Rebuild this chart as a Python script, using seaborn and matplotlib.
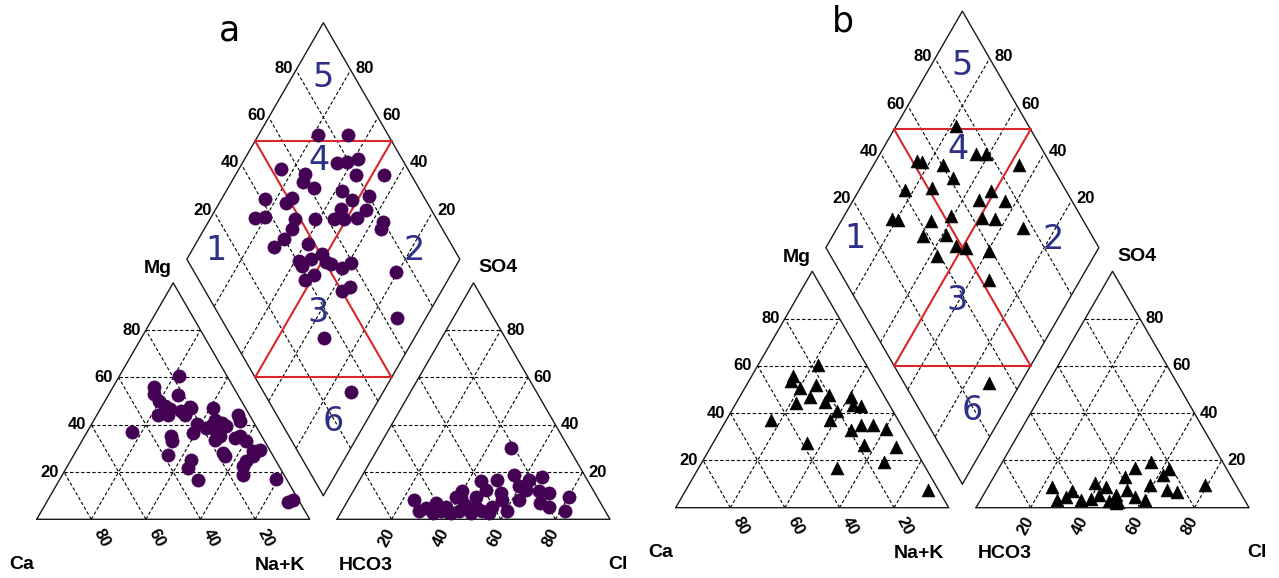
import numpy as np
import pandas as pd
import seaborn as sns
import matplotlib
matplotlib.use('Agg')
import matplotlib.pyplot as plt

# ---- data (percent) ----
# panel a, cation triangle: Mg, Na+K
a_cat_mg = [60.6, 56.1, 52.4, 52.8, 50.0, 47.9, 46.5, 44.3, 44.3, 45.8, 47.6, 44.3, 47.2, 44.3, 41.5,
            37.0, 40.5, 38.7, 42.2, 40.8, 37.3, 39.4, 36.3, 35.1, 33.0, 33.7, 34.4, 33.0, 35.1, 29.5,
            26.6, 24.5, 27.3, 28.0, 26.6, 25.2, 21.7, 22.4, 18.8, 16.7, 17.0, 7.5, 8.2, 28.8, 39.4,
            47.2, 35.1]
a_cat_nak = [21.9, 14.9, 25.6, 16.5, 19.9, 23.0, 25.5, 22.4, 26.0, 30.1, 32.3, 32.1, 41.0, 51.6, 53.6,
             16.3, 38.3, 42.8, 44.1, 47.3, 47.2, 49.8, 39.2, 31.8, 32.9, 48.4, 55.4, 60.3, 49.5, 67.0,
             66.0, 64.6, 34.5, 54.3, 55.6, 44.1, 44.7, 64.4, 66.2, 50.8, 79.3, 88.3, 89.8, 64.9, 44.3,
             33.1, 56.9]
# panel a, anion triangle: SO4, Cl
a_an_so4 = [30.2, 16.0, 16.7, 18.8, 16.7, 18.1, 13.9, 12.5, 11.8, 9.6, 3.3, 5.4, 6.8, 12.5, 8.2,
            3.3, 5.4, 11.8, 9.6, 6.1, 5.4, 3.3, 5.4, 6.8, 4.7, 8.2, 3.3, 2.5, 2.5, 3.3,
            2.5, 8.9, 11.0, 11.0, 8.2, 3.3, 2.5, 9.6]
a_an_cl = [48.8, 44.6, 50.3, 55.4, 61.9, 66.0, 59.6, 62.8, 68.0, 80.0, 82.0, 74.8, 71.1, 48.2, 56.4,
           60.7, 54.2, 40.0, 38.7, 44.0, 48.1, 51.6, 37.2, 32.8, 30.2, 24.2, 28.5, 33.8, 40.4, 43.1,
           47.7, 40.9, 54.4, 72.0, 62.5, 36.4, 54.4, 46.0]
# panel a, diamond: Ca+Mg, SO4+Cl
a_dia_camg = [78.1, 67.2, 65.2, 61.7, 58.3, 55.8, 45.6, 84.7, 74.8, 73.7, 68.4, 57.6, 46.6, 84.1, 74.3,
              75.5, 52.0, 54.3, 44.6, 68.8, 61.5, 54.5, 50.9, 46.2, 36.1, 35.4, 83.7, 80.3, 68.0, 68.7,
              70.6, 58.8, 56.4, 54.7, 51.5, 46.3, 50.0, 52.2, 41.2, 39.2, 36.4, 34.4, 20.9, 10.4, 33.0,
              12.0, 58.6, 48.5]
a_dia_so4cl = [74.5, 85.4, 75.5, 79.3, 83.9, 80.0, 90.1, 53.5, 61.4, 58.9, 61.6, 71.1, 80.1, 41.4, 51.6,
               48.4, 73.2, 67.0, 76.1, 48.0, 55.4, 62.3, 66.1, 71.1, 79.8, 77.5, 33.7, 37.6, 44.8, 39.9,
               34.5, 47.8, 40.9, 45.5, 50.8, 51.7, 43.2, 38.8, 55.0, 59.3, 50.3, 53.8, 73.9, 64.6, 33.5,
               32.0, 40.8, 50.3]

# panel b
b_cat_mg = [60.5, 55.8, 53.4, 50.6, 52.0, 47.0, 44.2, 47.7, 44.9, 46.8, 43.5, 42.8, 40.7, 37.1, 37.1,
            35.0, 35.0, 33.2, 32.9, 27.5, 26.6, 25.8, 19.5, 16.7, 7.5]
b_cat_nak = [21.9, 14.9, 15.7, 20.1, 25.5, 25.6, 22.1, 32.3, 32.1, 40.9, 43.2, 46.6, 38.7, 37.8, 16.5,
             50.5, 54.7, 60.5, 47.9, 34.4, 55.5, 67.9, 66.4, 50.7, 88.6]
b_an_so4 = [19.5, 16.7, 13.1, 16.2, 13.8, 9.6, 9.6, 7.5, 6.8, 7.5, 4.4, 3.2, 5.4, 2.1, 8.9,
            10.3, 5.4, 3.5, 3.2, 7.2, 4.7, 3.2, 8.9, 3.0, 2.5]
b_an_cl = [54.5, 50.0, 48.2, 62.5, 61.5, 79.1, 59.1, 66.2, 70.2, 51.6, 56.2, 60.4, 48.4, 50.1, 43.0,
           38.4, 42.3, 40.2, 36.7, 31.7, 30.5, 28.2, 23.3, 47.2, 50.8]
b_dia_camg = [78.0, 64.9, 61.0, 84.8, 82.9, 74.6, 68.3, 46.7, 83.2, 73.9, 54.1, 51.6, 44.2, 81.7, 79.3,
              67.1, 60.9, 49.2, 44.2, 32.0, 67.0, 58.8, 52.7, 48.7, 39.5, 57.3, 33.3, 11.7]
b_dia_so4cl = [73.6, 74.7, 78.5, 51.9, 53.2, 60.5, 61.1, 88.1, 41.3, 51.5, 66.2, 72.5, 75.4, 30.5, 32.5,
               44.0, 52.4, 63.4, 68.1, 76.4, 37.8, 46.7, 47.9, 51.2, 59.0, 39.0, 52.8, 31.2]

ticks = [20, 40, 60, 80]
zones = ['1', '2', '3', '4', '5', '6']
# red boundaries in the diamond (Ca+Mg, SO4+Cl)
red_camg = [[100, 0], [50, 50], [100, 50], [50, 0]]
red_so4cl = [[50, 50], [100, 0], [50, 100], [0, 50]]

s3 = np.sqrt(3) / 2
NAVY = '#2D3086'
RED = '#D9262C'


def cat_xy(ox, oy, mg, nak):
    mg = np.asarray(mg) / 100.0
    nak = np.asarray(nak) / 100.0
    return ox + nak + 0.5 * mg, oy + s3 * mg


def an_xy(ox, oy, so4, cl):
    so4 = np.asarray(so4) / 100.0
    cl = np.asarray(cl) / 100.0
    return ox + 1.1 + cl + 0.5 * so4, oy + s3 * so4


def dia_xy(ox, oy, camg, so4cl):
    a = np.asarray(camg) / 100.0
    b = np.asarray(so4cl) / 100.0
    return ox + 1.05 - 0.5 * a + 0.5 * b, oy + 0.1 * s3 + s3 * (a + b)


def draw_piper(ax, ox, oy, cat_mg, cat_nak, an_so4, an_cl, dia_camg, dia_so4cl,
               marker, color, size, letter, letter_pos):
    edge = dict(color='#1a1a1a', lw=1.0, zorder=2)
    grid = dict(color='black', lw=0.8, ls=(0, (3, 2)), zorder=1)
    tk = dict(fontsize=12, fontweight='bold', family='Liberation Sans', color='black')
    # outlines
    x, y = cat_xy(ox, oy, [0, 0, 100, 0], [0, 100, 0, 0])
    ax.plot(x, y, **edge)
    x, y = an_xy(ox, oy, [0, 0, 100, 0], [0, 100, 0, 0])
    ax.plot(x, y, **edge)
    x, y = dia_xy(ox, oy, [0, 100, 100, 0, 0], [0, 0, 100, 100, 0])
    ax.plot(x, y, **edge)
    # grids
    for k in ticks:
        for mg, nak in [([k, k], [0, 100 - k]), ([0, 100 - k], [k, k]), ([0, 100 - k], [100 - k, 0])]:
            x, y = cat_xy(ox, oy, mg, nak)
            ax.plot(x, y, **grid)
            x, y = an_xy(ox, oy, mg, nak)
            ax.plot(x, y, **grid)
        x, y = dia_xy(ox, oy, [k, k], [0, 100])
        ax.plot(x, y, **grid)
        x, y = dia_xy(ox, oy, [0, 100], [k, k])
        ax.plot(x, y, **grid)
        # tick labels
        x, y = cat_xy(ox, oy, k, 0)
        ax.text(x - 0.02, y, str(k), ha='right', va='center', **tk)
        x, y = cat_xy(ox, oy, 0, 100 - k)
        ax.text(x + 0.04, y - 0.068, str(k), ha='center', va='center', rotation=-62, **tk)
        x, y = an_xy(ox, oy, k, 100 - k)
        ax.text(x + 0.02, y, str(k), ha='left', va='center', **tk)
        x, y = an_xy(ox, oy, 0, k)
        ax.text(x - 0.018, y - 0.066, str(k), ha='center', va='center', rotation=62, **tk)
        x, y = dia_xy(ox, oy, 100, k)
        ax.text(x - 0.01, y + 0.006, str(k), ha='right', va='center', **tk)
        x, y = dia_xy(ox, oy, k, 100)
        ax.text(x + 0.016, y + 0.006, str(k), ha='left', va='center', **tk)
    # red zone lines
    for cm, sc in zip(red_camg, red_so4cl):
        x, y = dia_xy(ox, oy, cm, sc)
        ax.plot(x, y, color=RED, lw=1.5, zorder=3)
    # corner labels
    lab = dict(fontsize=14, fontweight='bold', family='Liberation Sans', ha='center', va='center',
               color='black')
    ax.text(ox - 0.055, oy - 0.165, 'Ca', **lab)
    ax.text(ox + 0.89, oy - 0.168, 'Na+K', **lab)
    ax.text(ox + 1.206, oy - 0.168, 'HCO3', **lab)
    ax.text(ox + 2.13, oy - 0.165, 'Cl', **lab)
    ax.text(ox + 0.445, oy + s3 + 0.052, 'Mg', **lab)
    ax.text(ox + 1.69, oy + s3 + 0.055, 'SO4', **lab)
    # zone numbers
    zpos = [(0.656, 0.986), (1.383, 0.984), (1.03, 0.758), (1.035, 1.313), (1.05, 1.618), (1.087, 0.357)]
    for z, (zx, zy) in zip(zones, zpos):
        ax.text(ox + zx, oy + zy, z, fontsize=24, color=NAVY, ha='center', va='center',
                family='DejaVu Sans', zorder=4)
    ax.text(ox + letter_pos[0], oy + letter_pos[1], letter, fontsize=25, ha='center', va='center',
            family='DejaVu Sans', color='black')
    # samples
    cx, cy = cat_xy(ox, oy, cat_mg, cat_nak)
    axx, ayy = an_xy(ox, oy, an_so4, an_cl)
    dx, dy = dia_xy(ox, oy, dia_camg, dia_so4cl)
    pts = pd.DataFrame({'x': np.concatenate([cx, axx, dx]), 'y': np.concatenate([cy, ayy, dy])})
    sns.scatterplot(data=pts, x='x', y='y', ax=ax, marker=marker, color=color, s=size,
                    edgecolor=color, linewidth=0.5, zorder=5, legend=False)


sns.set_style('white')
fig = plt.figure(figsize=(12.79, 5.78), dpi=100)
ax = fig.add_axes([0, 0, 1, 1])

draw_piper(ax, 0.0, 0.0, a_cat_mg, a_cat_nak, a_an_so4, a_an_cl, a_dia_camg, a_dia_so4cl,
           'o', '#440154', 90, 'a', (0.708, 1.792))
draw_piper(ax, 2.3407, 0.0425, b_cat_mg, b_cat_nak, b_an_so4, b_an_cl, b_dia_camg, b_dia_so4cl,
           '^', 'black', 85, 'b', (0.613, 1.779))

ax.set_xlim(-0.1344, 4.5505)
ax.set_ylim(-0.215, 1.902)
ax.axis('off')
fig.savefig('out.png', dpi=100)
